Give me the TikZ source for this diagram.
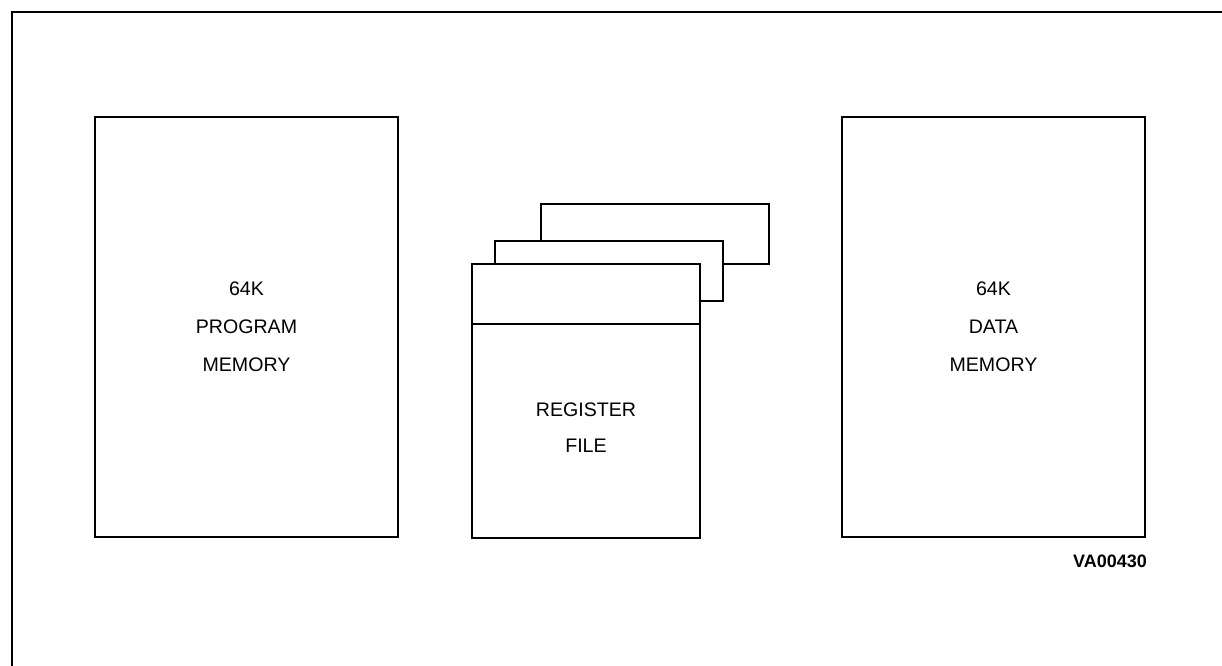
\documentclass[tikz,border=0pt]{standalone}
\usepackage{fontspec}
\setmainfont{Liberation Sans}
\begin{document}
\begin{tikzpicture}[x=0.5pt,y=-0.5pt,line width=1pt,
  membox/.style={draw,fill=white,inner sep=0pt,minimum width=151.5pt,minimum height=210pt,
    align=center,font=\fontsize{9.8}{19}\selectfont},
  regcard/.style={draw,fill=white,inner sep=0pt,minimum width=114pt,minimum height=30pt}]
\useasboundingbox (0,0) rectangle (1222,665);
\draw (12,670) -- (12,12) -- (1230,12);
\node[membox] (progmem) at (246.5,327) {64K\\PROGRAM\\MEMORY};
\node[membox] (datamem) at (993.5,327) {64K\\DATA\\MEMORY};
\node[regcard] (regcard2) at (654.5,233.5) {};
\node[regcard] (regcard1) at (609,271) {};
\node[draw,fill=white,inner sep=0pt,minimum width=114pt,minimum height=137pt] (regfile) at (586,401) {};
\draw (regfile.west |- 0,324) coordinate (divl) -- (regfile.east |- 0,324) coordinate (divr);
\node[align=center,font=\fontsize{9.8}{18}\selectfont] (regtext) at (586,428) {REGISTER\\FILE};
\node[font=\fontsize{9}{9}\selectfont\bfseries] (figid) at (1110,561) {VA00430};
\end{tikzpicture}
\end{document}
